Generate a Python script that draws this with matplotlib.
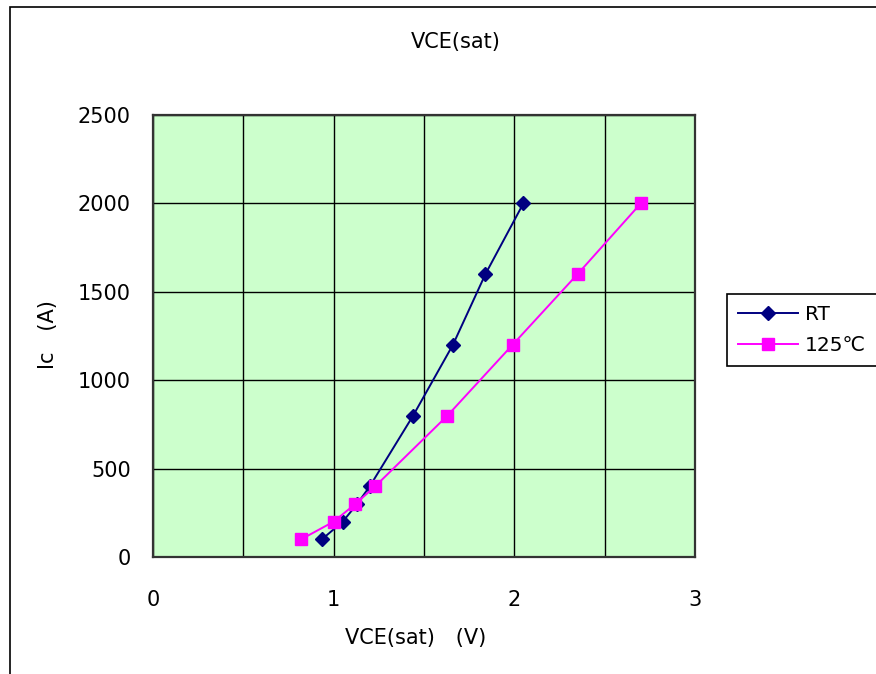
import matplotlib.pyplot as plt
from matplotlib.patches import Rectangle

plt.rcParams['font.family'] = ['DejaVu Sans', 'Noto Sans CJK JP']

# Ic vs VCE(sat)
rt_vce = [0.935, 1.05, 1.13, 1.20, 1.44, 1.66, 1.84, 2.05]
rt_ic = [100, 200, 300, 400, 800, 1200, 1600, 2000]
hot_vce = [0.82, 1.00, 1.12, 1.23, 1.63, 1.99, 2.35, 2.70]
hot_ic = [100, 200, 300, 400, 800, 1200, 1600, 2000]

fig = plt.figure(figsize=(8.76, 6.74), dpi=100)
fig.patches.append(Rectangle((10 / 876, -0.1), 2.0, 1 - 7 / 674 + 0.1,
                             transform=fig.transFigure, fill=False,
                             edgecolor="black", linewidth=1.2))

ax = fig.add_axes([153 / 876, 1 - 557 / 674, (695 - 153) / 876, (557 - 115) / 674])
ax.set_facecolor("#CCFFCC")
ax.plot(rt_vce, rt_ic, color="#000080", marker="D", markersize=7.5,
        linewidth=1.4, label="RT")
ax.plot(hot_vce, hot_ic, color="#FF00FF", marker="s", markersize=8.5,
        linewidth=1.4, label="125℃")

ax.set_xlim(0, 3)
ax.set_ylim(0, 2500)
ax.set_xticks([0, 1, 2, 3])
ax.set_xticks([0.5, 1.5, 2.5], minor=True)
ax.set_yticks(range(0, 2501, 500))
ax.grid(True, which="both", color="black", linewidth=1)
ax.set_axisbelow(True)
ax.tick_params(axis="both", which="both", length=0, labelsize=15)
ax.tick_params(axis="x", pad=24)
ax.tick_params(axis="y", pad=16)
for s in ax.spines.values():
    s.set_linewidth(1.6)
    s.set_color("#333333")

fig.text(456 / 876, 1 - 42 / 674, "VCE(sat)", ha="center", va="center", fontsize=15)
fig.text(416 / 876, 1 - 638 / 674, "VCE(sat)\u3000(V)", ha="center", va="center", fontsize=15)
fig.text(48 / 876, 1 - 335 / 674, "Ic\u3000(A)", ha="center", va="center",
         fontsize=15, rotation=90)

leg = ax.legend(loc="center left", bbox_to_anchor=(727 / 876, 1 - 330 / 674),
                bbox_transform=fig.transFigure, fontsize=14.5, frameon=True,
                fancybox=False, framealpha=1, edgecolor="black",
                handlelength=3.0, borderpad=0.55, labelspacing=0.6,
                handletextpad=0.3, borderaxespad=0)
leg.get_frame().set_linewidth(1.2)

fig.savefig("out.png", dpi=100)
